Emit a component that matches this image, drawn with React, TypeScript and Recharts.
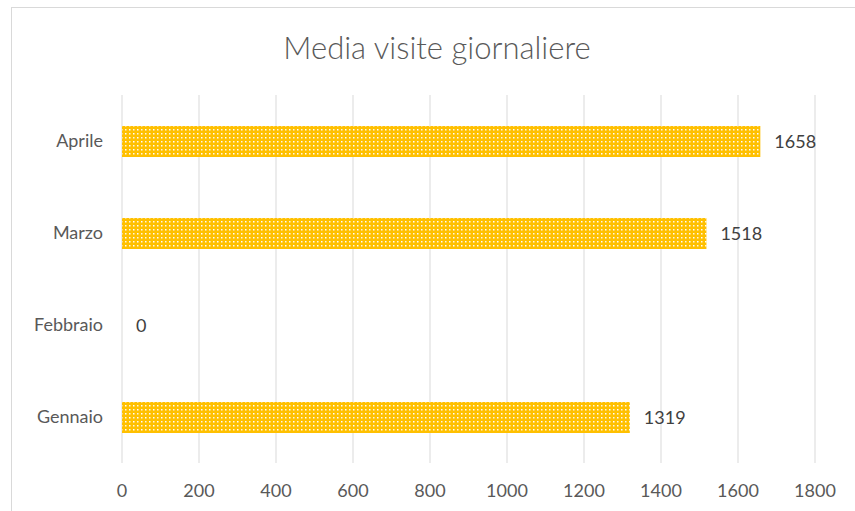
import React from "react";
import { BarChart, Bar, XAxis, YAxis, CartesianGrid } from "recharts";

const categories = ["Gennaio", "Febbraio", "Marzo", "Aprile"];
const visits = [1319, 0, 1518, 1658];
const xTicks = [0, 200, 400, 600, 800, 1000, 1200, 1400, 1600, 1800];
const title = "Media visite giornaliere";

const data = categories.map((name, i) => ({ name, value: visits[i] }));

const FONT = "Lato, 'Open Sans', sans-serif";

const ValueLabel = (props: any) => {
  const { x, y, width, height, value } = props;
  const xx = Number(x) + Number(width || 0) + 14;
  const yy = Number(y) + Number(height || 0) / 2;
  return (
    <text
      x={xx}
      y={yy}
      dy="0.35em"
      fill="#404040"
      fontSize={18}
      fontFamily={FONT}
      textAnchor="start"
    >
      {String(value)}
    </text>
  );
};

export default function App() {
  return (
    <div
      style={{
        position: "fixed",
        left: 0,
        top: 0,
        width: 855,
        height: 511,
        overflow: "hidden",
        background: "#ffffff",
        fontFamily: FONT,
      }}
    >
      <div
        style={{
          position: "absolute",
          left: 11,
          top: 7,
          width: 900,
          height: 600,
          border: "1px solid #d9d9d9",
          boxSizing: "border-box",
        }}
      />
      <div
        style={{
          position: "absolute",
          left: 0,
          top: 28,
          width: 874,
          textAlign: "center",
          fontSize: 31,
          fontWeight: 300,
          color: "#595959",
          lineHeight: "38px",
        }}
      >
        {title}
      </div>
      <div style={{ position: "absolute", left: 0, top: 0 }}>
        <BarChart
          width={855}
          height={511}
          data={data}
          layout="vertical"
          margin={{ top: 95, right: 40, bottom: 10, left: 0 }}
        >
          <defs>
            <pattern id="dots" width="8" height="8" patternUnits="userSpaceOnUse">
              <rect x="0" y="0" width="8" height="8" fill="#FFC000" />
              <rect x="1" y="1" width="1.5" height="1.5" fill="#ffffff" />
              <rect x="5" y="5" width="1.5" height="1.5" fill="#ffffff" />
              <rect x="5" y="1" width="1.5" height="1.5" fill="#fff6dc" />
              <rect x="1" y="5" width="1.5" height="1.5" fill="#fff6dc" />
            </pattern>
          </defs>
          <CartesianGrid horizontal={false} stroke="#d9d9d9" strokeWidth={1} />
          <XAxis
            type="number"
            domain={[0, 1800]}
            ticks={xTicks}
            interval={0}
            axisLine={false}
            tickLine={false}
            tickSize={0}
            tickMargin={21}
            height={38}
            tick={{ fill: "#595959", fontSize: 18, fontFamily: FONT }}
          />
          <YAxis
            type="category"
            dataKey="name"
            reversed
            width={122}
            axisLine={false}
            tickLine={false}
            tickSize={0}
            tickMargin={19}
            tick={{ fill: "#595959", fontSize: 18, fontFamily: FONT }}
          />
          <Bar
            dataKey="value"
            fill="url(#dots)"
            barSize={31}
            minPointSize={0.01}
            isAnimationActive={false}
            label={<ValueLabel />}
          />
        </BarChart>
      </div>
    </div>
  );
}
